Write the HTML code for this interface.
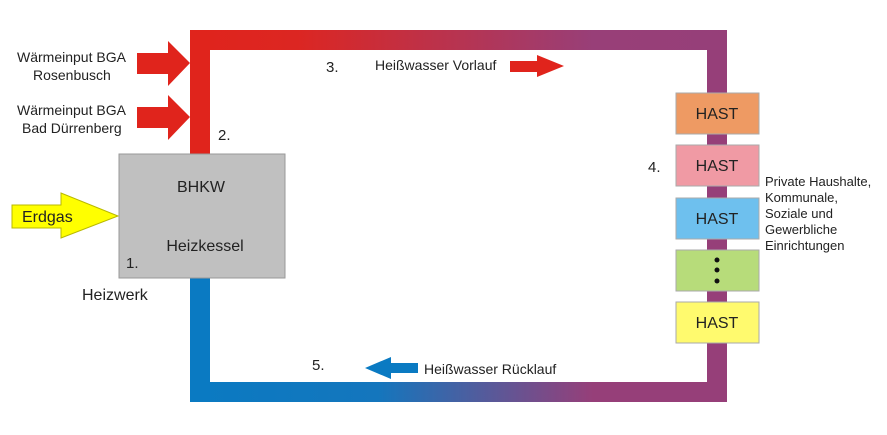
<!DOCTYPE html>
<html><head><meta charset="utf-8"><style>
body{margin:0;background:#fff;}
svg text{font-family:"Liberation Sans",sans-serif;fill:#222;}
</style></head><body>
<svg width="887" height="430" viewBox="0 0 887 430" xmlns="http://www.w3.org/2000/svg">
<defs>
<linearGradient id="gt" x1="190" y1="0" x2="727" y2="0" gradientUnits="userSpaceOnUse">
<stop offset="0" stop-color="#e0241c"/><stop offset="0.2" stop-color="#dc2622"/><stop offset="0.75" stop-color="#983f78"/><stop offset="1" stop-color="#963f79"/></linearGradient>
<linearGradient id="gb" x1="190" y1="0" x2="727" y2="0" gradientUnits="userSpaceOnUse">
<stop offset="0" stop-color="#0a7ac2"/><stop offset="0.35" stop-color="#1476bd"/><stop offset="0.75" stop-color="#963f79"/><stop offset="1" stop-color="#963f79"/></linearGradient>
</defs>
<rect x="190" y="30" width="537" height="20" fill="url(#gt)"/>
<rect x="190" y="30" width="20" height="125" fill="#e0241c"/>
<rect x="707" y="30" width="20" height="372" fill="#963f79"/>
<rect x="190" y="382" width="537" height="20" fill="url(#gb)"/>
<rect x="190" y="277" width="20" height="125" fill="#0a7ac2"/>
<rect x="119" y="154" width="166" height="124" fill="#c0c0c0" stroke="#999" stroke-width="1"/>
<text x="201" y="192" font-size="16" text-anchor="middle">BHKW</text>
<text x="205" y="251" font-size="16" text-anchor="middle">Heizkessel</text>
<text x="126" y="268" font-size="15">1.</text>
<text x="82" y="300" font-size="16">Heizwerk</text>
<polygon points="137,53 168,53 168,41 190,63 168,86 168,74 137,74" fill="#e0241c"/>
<polygon points="137,107 168,107 168,95 190,117 168,140 168,128 137,128" fill="#e0241c"/>
<text x="17" y="62" font-size="14">Wärmeinput BGA</text>
<text x="33" y="80" font-size="14">Rosenbusch</text>
<text x="17" y="115" font-size="14">Wärmeinput BGA</text>
<text x="22" y="133" font-size="14">Bad Dürrenberg</text>
<text x="218" y="140" font-size="15">2.</text>
<polygon points="12,205 61,205 61,193 118,216 61,238 61,228 12,228" fill="#ffff00" stroke="#b8b800" stroke-width="1"/>
<text x="22" y="222" font-size="16">Erdgas</text>
<text x="326" y="72" font-size="15">3.</text>
<text x="375" y="70" font-size="14">Heißwasser Vorlauf</text>
<polygon points="510,61 537,61 537,55 564,66 537,77 537,72 510,72" fill="#e0241c"/>
<text x="312" y="370" font-size="15">5.</text>
<polygon points="418,363 391,363 391,357 365,368 391,379 391,373 418,373" fill="#0a7ac2"/>
<text x="424" y="374" font-size="14">Heißwasser Rücklauf</text>
<g stroke="#aaa" stroke-width="1">
<rect x="676" y="93" width="83" height="41" fill="#ee9a63"/>
<rect x="676" y="145" width="83" height="41" fill="#f09aa4"/>
<rect x="676" y="198" width="83" height="41" fill="#6ec0ee"/>
<rect x="676" y="250" width="83" height="41" fill="#b7dc7a"/>
<rect x="676" y="302" width="83" height="41" fill="#fffa6e"/>
</g>
<g font-size="16" text-anchor="middle">
<text x="717" y="119">HAST</text>
<text x="717" y="171">HAST</text>
<text x="717" y="224">HAST</text>
<text x="717" y="328">HAST</text>
</g>
<circle cx="717" cy="260" r="2.5" fill="#111"/>
<circle cx="717" cy="270" r="2.5" fill="#111"/>
<circle cx="717" cy="281" r="2.5" fill="#111"/>
<text x="648" y="172" font-size="15">4.</text>
<g font-size="13">
<text x="765" y="186">Private Haushalte,</text>
<text x="765" y="202">Kommunale,</text>
<text x="765" y="218">Soziale und</text>
<text x="765" y="234">Gewerbliche</text>
<text x="765" y="250">Einrichtungen</text>
</g>
</svg>
</body></html>
